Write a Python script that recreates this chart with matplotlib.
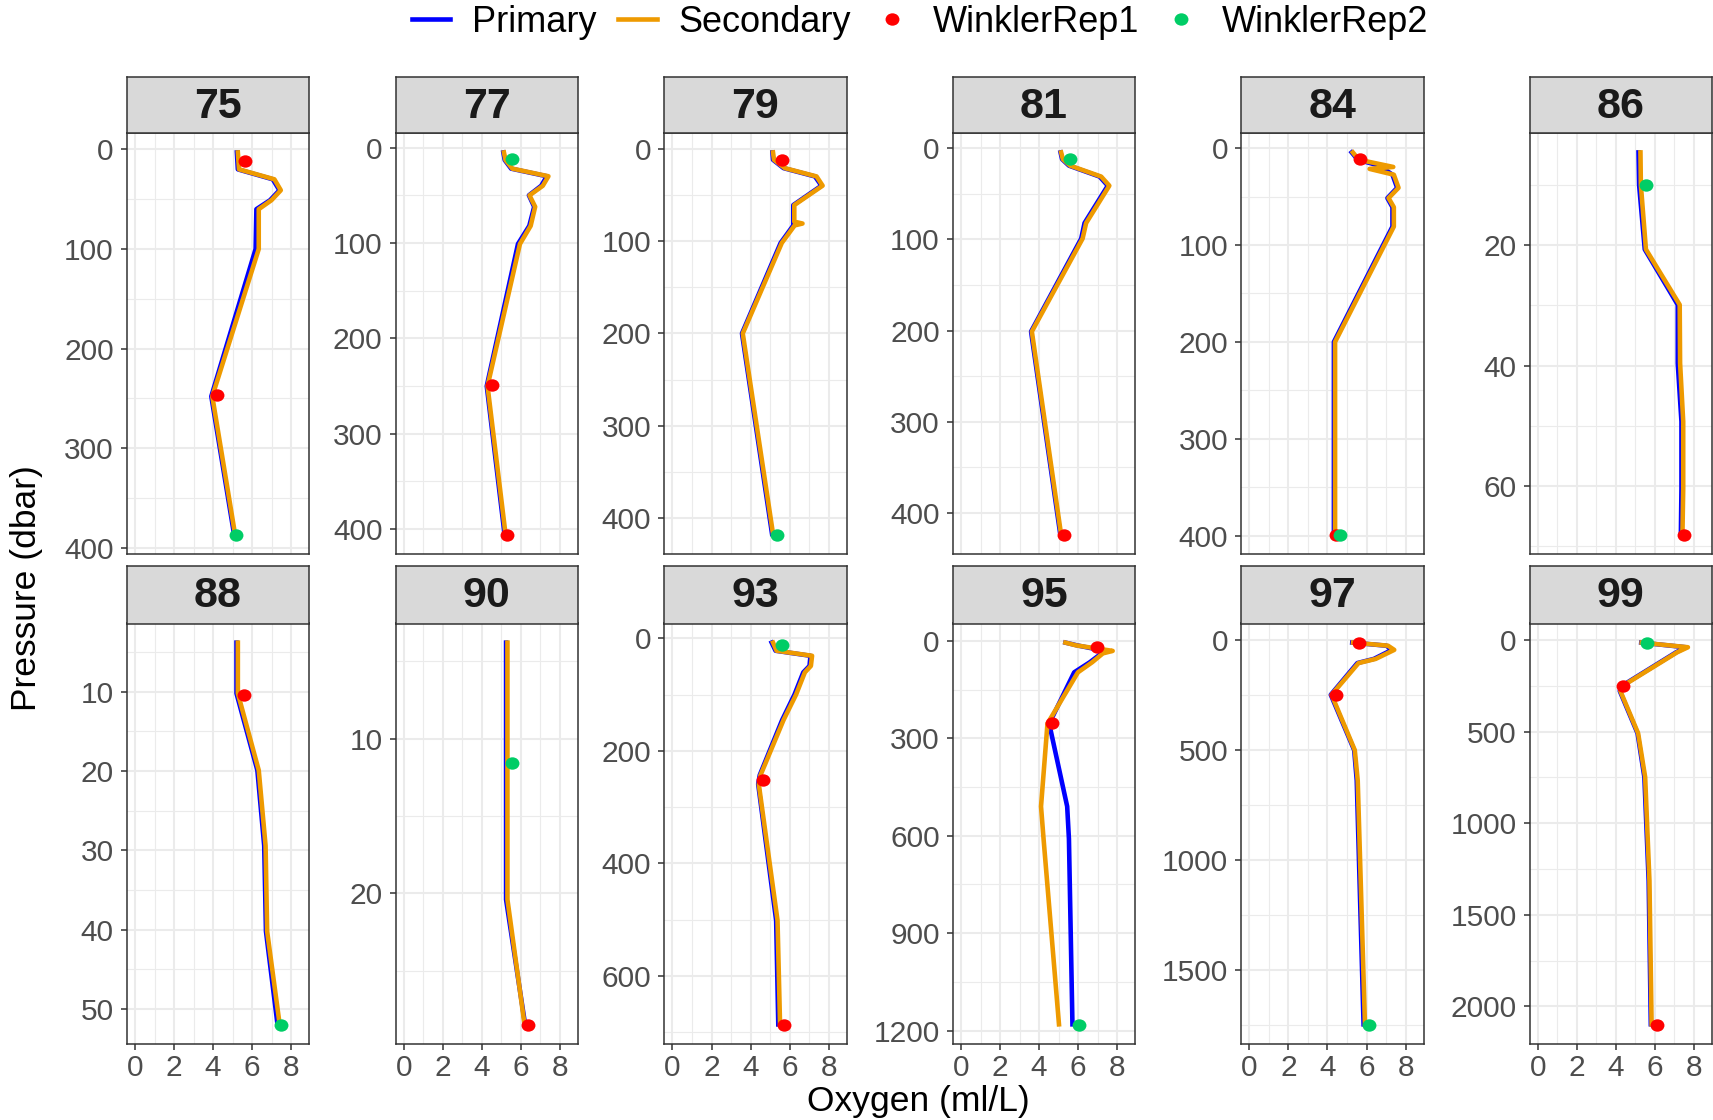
import matplotlib
matplotlib.use("Agg")
import matplotlib.pyplot as plt
from matplotlib.lines import Line2D
from matplotlib.path import Path
from matplotlib.transforms import Affine2D
from matplotlib.ticker import AutoMinorLocator

plt.rcParams["font.family"] = ["Liberation Sans", "DejaVu Sans"]

# ---- cast data -------------------------------------------------------------
stations = [75, 77, 79, 81, 84, 86, 88, 90, 93, 95, 97, 99]

# bottle pressures (dbar), shared by both CTD oxygen sensors
pressure = {
    75: [3, 20, 30, 41, 51, 60, 100, 248, 387],
    77: [5, 13, 22, 30, 40, 50, 62, 82, 101, 250, 405],
    79: [4, 12, 21, 30, 40, 61, 79, 81, 83, 102, 200, 417],
    81: [4.5, 12, 19, 31, 41, 82, 99, 201, 424],
    84: [4.5, 12, 19.5, 21.5, 27.5, 41, 51.6, 61, 81, 200, 399],
    86: [4.6, 10, 20.7, 29.9, 39.6, 49.3, 60.4, 68.1],
    88: [3.8, 10.2, 19.9, 29.4, 40.2, 51.9],
    90: [3.8, 20.4, 28.5],
    93: [7.6, 22, 31, 49, 60.5, 100, 145, 243, 259, 501, 686],
    95: [5.5, 14, 31, 38.6, 66, 97, 255, 510, 610, 1181],
    97: [11, 25, 44, 85, 104, 248, 500, 638, 1746],
    99: [13.7, 39, 66.5, 248.5, 278, 509, 748, 1315, 2098],
}

# primary sensor oxygen (ml/L)
oxy_primary = {
    75: [5.22, 5.27, 7.06, 7.4, 6.92, 6.22, 6.18, 3.91, 5.08],
    77: [5.1, 5.17, 5.5, 7.33, 7.04, 6.41, 6.68, 6.43, 5.85, 4.25, 5.16],
    79: [5.12, 5.15, 5.69, 7.3, 7.63, 6.19, 6.19, 6.19, 6.19, 5.54, 3.56, 5.1],
    81: [5.1, 5.18, 5.53, 7.1, 7.52, 6.33, 6.16, 3.59, 5.09],
    84: [5.24, 5.55, 6.9, 6.9, 7.33, 7.57, 7.07, 7.33, 7.33, 4.33, 4.33],
    86: [5.16, 5.19, 5.48, 7.17, 7.17, 7.36, 7.36, 7.33],
    88: [5.2, 5.2, 6.27, 6.62, 6.71, 7.3],
    90: [5.24, 5.24, 6.22],
    93: [5.08, 5.28, 7.07, 7.02, 6.7, 6.25, 5.62, 4.47, 4.39, 5.31, 5.42],
    95: [5.35, 5.95, 7.36, 7.2, 6.6, 5.8, 4.52, 5.44, 5.53, 5.71],
    97: [5.27, 7.02, 7.3, 6.38, 5.53, 4.17, 5.37, 5.5, 5.85],
    99: [5.3, 7.58, 7.09, 4.33, 4.2, 5.11, 5.46, 5.68, 5.79],
}

# secondary sensor oxygen (ml/L)
oxy_secondary = {
    75: [5.27, 5.33, 7.14, 7.47, 6.99, 6.34, 6.34, 3.96, 5.13],
    77: [5.13, 5.21, 5.56, 7.41, 7.12, 6.44, 6.73, 6.5, 5.95, 4.29, 5.21],
    79: [5.15, 5.2, 5.75, 7.38, 7.69, 6.24, 6.24, 6.66, 6.26, 5.6, 3.6, 5.15],
    81: [5.13, 5.22, 5.59, 7.18, 7.6, 6.41, 6.23, 3.63, 5.13],
    84: [5.3, 5.6, 7.37, 6.16, 7.4, 7.64, 7.13, 7.4, 7.4, 4.39, 4.39],
    86: [5.26, 5.28, 5.54, 7.27, 7.29, 7.45, 7.45, 7.41],
    88: [5.27, 5.27, 6.34, 6.69, 6.77, 7.41],
    90: [5.31, 5.31, 6.19],
    93: [5.15, 5.33, 7.15, 7.09, 6.78, 6.33, 5.69, 4.51, 4.42, 5.38, 5.51],
    95: [5.35, 5.9, 7.77, 7.27, 6.72, 5.99, 4.43, 4.1, 4.23, 5.02],
    97: [5.31, 7.1, 7.42, 6.47, 5.59, 4.21, 5.4, 5.55, 5.92],
    99: [5.32, 7.69, 7.14, 4.37, 4.23, 5.14, 5.5, 5.72, 5.83],
}

# Winkler titrations, replicate 1
rep1_oxy = {
    75: [5.62, 4.21], 77: [4.53, 5.31], 79: [5.6], 81: [5.27],
    84: [5.67, 4.44], 86: [7.5], 88: [5.56], 90: [6.34],
    93: [4.65, 5.73], 95: [6.96, 4.65], 97: [5.62, 4.45], 99: [4.37, 6.1],
}
rep1_p = {
    75: [12, 247], 77: [249, 406], 79: [12], 81: [424],
    84: [11.4, 399], 86: [68.1], 88: [10.4], 90: [28.5],
    93: [251.6, 687], 95: [20, 252], 97: [11, 247.6], 99: [252, 2102],
}

# Winkler titrations, replicate 2
rep2_oxy = {
    75: [5.19], 77: [5.52], 79: [5.33], 81: [5.59], 84: [4.63], 86: [5.54],
    88: [7.5], 90: [5.56], 93: [5.6], 95: [6.04], 97: [6.14], 99: [5.59],
}
rep2_p = {
    75: [387], 77: [11.5], 79: [418], 81: [12], 84: [399], 86: [10],
    88: [52], 90: [11.6], 93: [12], 95: [1183], 97: [1749], 99: [13.7],
}

pressure_ticks = {
    75: [0, 100, 200, 300, 400], 77: [0, 100, 200, 300, 400],
    79: [0, 100, 200, 300, 400], 81: [0, 100, 200, 300, 400],
    84: [0, 100, 200, 300, 400], 86: [20, 40, 60],
    88: [10, 20, 30, 40, 50], 90: [10, 20],
    93: [0, 200, 400, 600], 95: [0, 300, 600, 900, 1200],
    97: [0, 500, 1000, 1500], 99: [0, 500, 1000, 1500, 2000],
}

oxy_limits = (0, 8.5)
oxy_ticks = [0, 2, 4, 6, 8]

# ---- styling ---------------------------------------------------------------
BLUE = "#0000FF"
ORANGE = "#EE9A00"
RED = "#FF0000"
GREEN = "#00CD66"
BORDER = "#333333"
LW = 3.3

# slightly wide dot marker
DOT = Path.unit_circle().transformed(Affine2D().scale(1.12, 1.0))
MS = 10

W, H = 1713, 1120
col_left = [126.7, 395.5, 664.2, 952.7, 1241.1, 1529.5]
panel_w = 182.5
row_strip_top = [76.5, 566.0]
row_panel_top = [133.3, 623.5]
panel_h = 420.6


def fx(px):
    return px / W


def fy(py):
    return 1 - py / H


fig = plt.figure(figsize=(W / 100, H / 100), dpi=100)

for i, st in enumerate(stations):
    row, col = divmod(i, 6)
    left = col_left[col]
    top = row_panel_top[row]
    ax = fig.add_axes([fx(left), fy(top + panel_h), panel_w / W, panel_h / H])

    ax.plot(oxy_primary[st], pressure[st], color=BLUE, lw=LW,
            solid_joinstyle="round", zorder=3)
    ax.plot(oxy_secondary[st], pressure[st], color=ORANGE, lw=LW,
            solid_joinstyle="round", zorder=4)
    ax.plot(rep1_oxy[st], rep1_p[st], ls="none", marker=DOT, ms=MS,
            color=RED, mec="none", zorder=5)
    ax.plot(rep2_oxy[st], rep2_p[st], ls="none", marker=DOT, ms=MS,
            color=GREEN, mec="none", zorder=6)

    ys = pressure[st] + rep1_p[st] + rep2_p[st]
    lo, hi = min(ys), max(ys)
    pad = 0.05 * (hi - lo)
    ax.set_ylim(hi + pad, lo - pad)
    xpad = 0.05 * (oxy_limits[1] - oxy_limits[0])
    ax.set_xlim(oxy_limits[0] - xpad, oxy_limits[1] + xpad)

    ax.set_yticks(pressure_ticks[st])
    ax.set_xticks(oxy_ticks)
    ax.yaxis.set_minor_locator(AutoMinorLocator(2))
    ax.xaxis.set_minor_locator(AutoMinorLocator(2))

    ax.set_axisbelow(True)
    ax.grid(which="major", color="#EBEBEB", lw=1.5)
    ax.grid(which="minor", color="#EBEBEB", lw=0.8)
    ax.tick_params(which="minor", length=0)
    ax.tick_params(which="major", length=4.3, width=1.1, color=BORDER,
                   labelsize=21.5, labelcolor="#4D4D4D", pad=5)
    ax.tick_params(axis="x", which="major", pad=3)
    if row == 0:
        ax.tick_params(axis="x", which="major", length=0, labelbottom=False)
    for sp in ax.spines.values():
        sp.set_color(BORDER)
        sp.set_linewidth(1.1)

    # facet strip
    sax = fig.add_axes([fx(left), fy(top), panel_w / W,
                        (top - row_strip_top[row]) / H])
    sax.set_facecolor("#D9D9D9")
    sax.set_xticks([])
    sax.set_yticks([])
    for sp in sax.spines.values():
        sp.set_color(BORDER)
        sp.set_linewidth(1.1)
    sax.text(0.5, 0.47, str(st), transform=sax.transAxes, ha="center",
             va="center", fontsize=31, fontweight="bold", color="#1A1A1A")

fig.text(fx(918.5), fy(1111), "Oxygen (ml/L)", ha="center", va="baseline",
         fontsize=25.5)
fig.text(fx(27), fy(588), "Pressure (dbar)", ha="center", va="center",
         rotation=90, fontsize=25.5)

handles = [
    Line2D([], [], color=BLUE, lw=LW),
    Line2D([], [], color=ORANGE, lw=LW),
    Line2D([], [], ls="none", marker=DOT, ms=MS, color=RED, mec="none"),
    Line2D([], [], ls="none", marker=DOT, ms=MS, color=GREEN, mec="none"),
]
fig.legend(handles, ["Primary", "Secondary", "WinklerRep1", "WinklerRep2"],
           loc="center", bbox_to_anchor=(fx(920), fy(22)), ncol=4,
           frameon=False, fontsize=26, handlelength=1.07,
           handletextpad=0.6, columnspacing=0.6, borderpad=0)

fig.savefig("out.png", dpi=100)
